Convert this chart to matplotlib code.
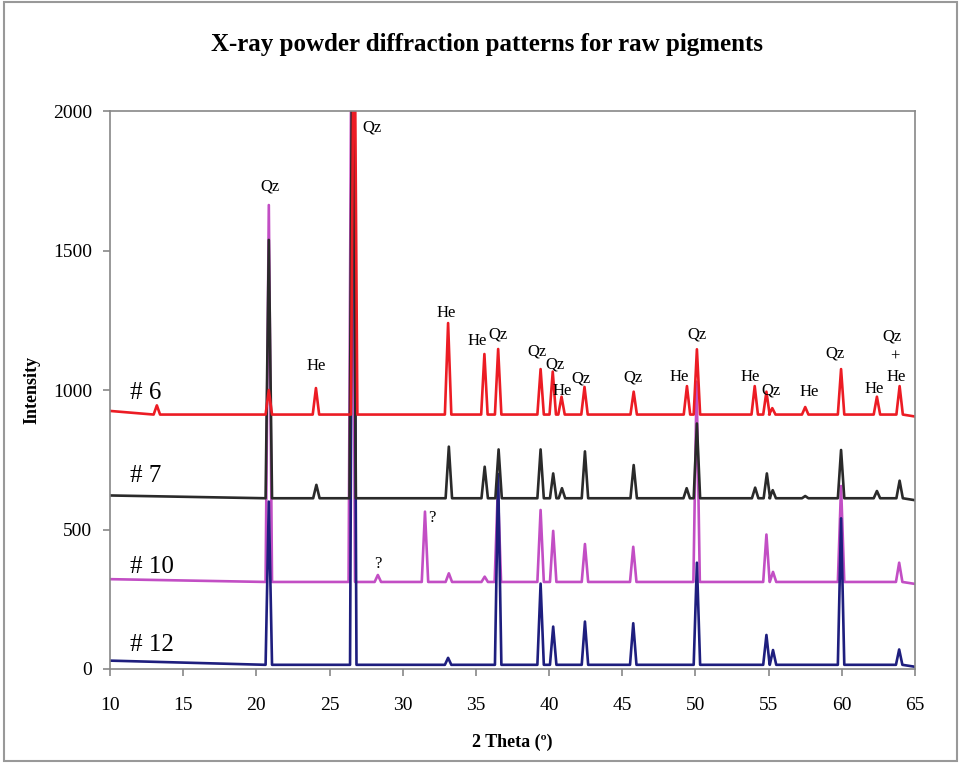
import numpy as np
import matplotlib
matplotlib.use("Agg")
import matplotlib.pyplot as plt
from matplotlib.patches import Rectangle

plt.rcParams['font.family'] = ['Liberation Serif', 'DejaVu Serif']

# Peak positions (2 theta) and apex intensities, per sample
pos_6 = [13.2, 20.85, 24.07, 26.68, 33.1, 35.58, 36.52, 39.42, 40.25, 40.85, 42.42,
         45.78, 49.42, 50.1, 54.05, 54.85, 55.25, 57.5, 59.95, 62.4, 63.95]
int_6 = [945, 1000, 1007, 2600, 1240, 1129, 1147, 1075, 1066, 976, 1011,
         994, 1014, 1146, 1014, 994, 935, 939, 1075, 976, 1014]
base_6 = [925, 912, 905]   # start, baseline, end

pos_7 = [20.85, 24.1, 26.58, 33.15, 35.6, 36.55, 39.42, 40.28, 40.88, 42.45,
         45.78, 49.4, 50.1, 54.08, 54.88, 55.28, 57.5, 59.95, 62.4, 63.95]
int_7 = [1538, 660, 2600, 797, 725, 787, 787, 701, 648, 780,
         731, 648, 880, 650, 701, 641, 620, 785, 638, 675]
base_7 = [622, 612, 605]

pos_10 = [20.85, 26.52, 28.3, 31.52, 33.15, 35.6, 36.5, 39.42, 40.28, 42.45,
          45.75, 50.08, 54.85, 55.3, 59.95, 63.92]
int_10 = [1663, 2600, 337, 564, 343, 331, 648, 570, 495, 448,
          438, 1030, 482, 348, 656, 381]
base_10 = [322, 312, 305]

pos_12 = [20.85, 26.62, 33.1, 36.52, 39.42, 40.28, 42.45, 45.75, 50.1, 54.85,
          55.3, 59.95, 63.92]
int_12 = [600, 2600, 40, 699, 306, 152, 170, 164, 381, 122,
          68, 540, 70]
base_12 = [30, 15, 8]

# Phase labels: text, 2 theta, intensity
labels_txt = ["Qz", "Qz", "He", "He", "He", "Qz", "Qz", "Qz", "He", "Qz", "Qz", "He",
              "Qz", "He", "Qz", "He", "Qz", "He", "Qz", "+", "He", "?", "?"]
labels_x = [20.93, 27.88, 24.12, 33.0, 35.1, 36.53, 39.2, 40.43, 40.9, 42.2, 45.7, 48.9,
            50.13, 53.73, 55.14, 57.76, 59.53, 62.22, 63.43, 63.66, 63.7, 28.33, 31.98]
labels_y = [1731, 1942, 1086, 1277, 1177, 1200, 1137, 1092, 996, 1042, 1044, 1048,
            1200, 1045, 1000, 994, 1131, 1002, 1191, 1120, 1045, 376, 540]

sample_names = ["# 6", "# 7", "# 10", "# 12"]
sample_y = [989, 692, 367, 86]


def trace(pos, inten, base, hw=0.22):
    xs = [10.0]
    ys = [base[0]]
    for p, h in zip(pos, inten):
        xs += [p - hw, p, p + hw]
        ys += [base[1], h, base[1]]
    xs.append(65.0)
    ys.append(base[2])
    return xs, ys


fig = plt.figure(figsize=(9.6, 7.63), dpi=100)
ax = fig.add_axes([0.1146, 0.1232, 0.8385, 0.7313])

series = [
    (pos_10, int_10, base_10, "#c24ec4"),
    (pos_12, int_12, base_12, "#1e1e7e"),
    (pos_7, int_7, base_7, "#2a2a2a"),
    (pos_6, int_6, base_6, "#ec1c24"),
]
for pos, inten, base, col in series:
    x, y = trace(pos, inten, base)
    ax.plot(x, y, color=col, lw=1.9)

for t, x, y in zip(labels_txt, labels_x, labels_y):
    ax.text(x, y, t, fontsize=12, ha="center", va="center")

for t, y in zip(sample_names, sample_y):
    ax.text(11.37, y, t, fontsize=18, ha="left", va="center")

ax.set_xlim(10, 65)
ax.set_ylim(0, 2000)
ax.set_xticks(np.arange(10, 66, 5))
ax.set_yticks(np.arange(0, 2001, 500))
for s in ax.spines.values():
    s.set_color("#888888")
    s.set_linewidth(1.2)
ax.tick_params(axis="both", direction="out", length=5, color="#888888",
               labelsize=14, width=1.2)
ax.tick_params(axis="x", pad=15)
ax.tick_params(axis="y", pad=8)

ax.set_xlabel("2 Theta (º)", fontsize=13, fontweight="bold", labelpad=14)
ax.set_ylabel("Intensity", fontsize=13, fontweight="bold", labelpad=9)
fig.suptitle("X-ray powder diffraction patterns for raw pigments",
             fontsize=18, fontweight="bold", x=0.507, y=0.957)

fig.patches.append(Rectangle((0.004, 0.003), 0.993, 0.994, transform=fig.transFigure,
                             fill=False, edgecolor="#999999", lw=1.5))

fig.savefig("out.png", dpi=100)
